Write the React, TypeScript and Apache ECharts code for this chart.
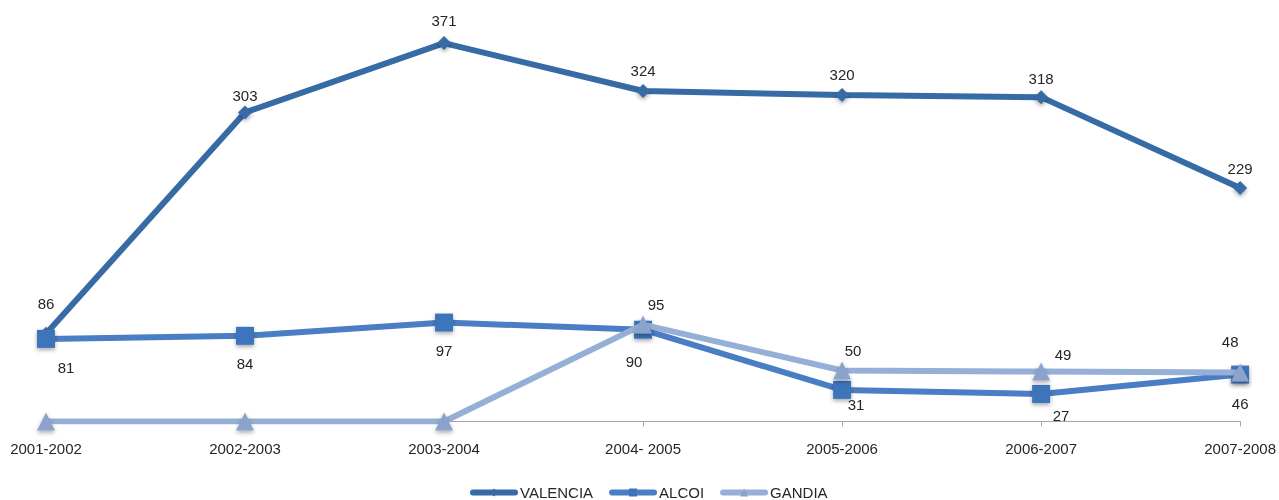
import React, { useEffect, useRef } from "react";
import * as echarts from "echarts";

const categories = ["2001-2002", "2002-2003", "2003-2004", "2004- 2005", "2005-2006", "2006-2007", "2007-2008"];
const valencia = [86, 303, 371, 324, 320, 318, 229];
const alcoi = [81, 84, 97, 90, 31, 27, 46];
const gandia = [0, 0, 0, 95, 50, 49, 48];

// label offsets (styling) relative to each point
const valenciaLabelOffsets = [[0, -30], [0, -17], [0, -23], [0, -21], [0, -21], [0, -19], [0, -19]];
const alcoiLabelOffsets = [[20, 29], [0, 28], [0, 28], [-9, 32], [14, 15], [20, 22], [0, 29]];
const gandiaLabelOffsets = [[0, 0], [0, 0], [0, 0], [13, -20], [11, -20], [22, -17], [-10, -31]];

const FONT = "'Liberation Sans', Arial, sans-serif";

function buildData(values: number[], offsets: number[][], hideZero: boolean) {
  return values.map((v, i) => ({
    value: v,
    label: { show: !(hideZero && v === 0), offset: offsets[i] },
  }));
}

export default function App() {
  const ref = useRef<HTMLDivElement>(null);
  useEffect(() => {
    if (!ref.current) return;
    const chart = echarts.init(ref.current, null, { renderer: "svg" });
    const shadow = { shadowBlur: 4, shadowColor: "rgba(0,0,0,0.35)", shadowOffsetY: 2 };
    const labelBase = {
      show: true,
      position: "inside" as const,
      color: "#262626",
      fontSize: 15,
      fontFamily: FONT,
    };
    chart.setOption({
      animation: false,
      grid: { left: 46, right: 38, top: 13.5, bottom: 78.5, containLabel: false },
      legend: {
        top: 480,
        left: 465,
        itemWidth: 42,
        itemHeight: 10,
        itemGap: 16,
        textStyle: { fontSize: 15, fontFamily: FONT, color: "#262626" },
        lineStyle: { width: 6, cap: "round" },
        data: ["VALENCIA", "ALCOI", "GANDIA"],
      },
      xAxis: {
        type: "category",
        data: categories,
        boundaryGap: false,
        axisLine: { lineStyle: { color: "#a6a6a6", width: 1 } },
        axisTick: { show: true, length: 5, lineStyle: { color: "#a6a6a6" } },
        axisLabel: { fontSize: 15, fontFamily: FONT, color: "#262626", margin: 19 },
      },
      yAxis: {
        type: "value",
        min: 0,
        max: 400,
        show: false,
        splitLine: { show: false },
      },
      series: [
        {
          name: "VALENCIA",
          type: "line",
          data: buildData(valencia, valenciaLabelOffsets, false),
          symbol: "diamond",
          symbolSize: 14,
          color: "#376BA5",
          lineStyle: { width: 6, color: "#376BA5" },
          itemStyle: { color: "#376BA5", ...shadow },
          label: labelBase,
          z: 2,
        },
        {
          name: "ALCOI",
          type: "line",
          data: buildData(alcoi, alcoiLabelOffsets, false),
          symbol: "rect",
          symbolSize: 18,
          color: "#4A7EC4",
          lineStyle: { width: 6, color: "#4A7EC4" },
          itemStyle: { color: "#3E74BC", ...shadow },
          label: labelBase,
          z: 3,
        },
        {
          name: "GANDIA",
          type: "line",
          data: buildData(gandia, gandiaLabelOffsets, true),
          symbol: "triangle",
          symbolSize: 18,
          color: "#95AFD6",
          lineStyle: { width: 6, color: "#95AFD6" },
          itemStyle: { color: "#8BA3CC", ...shadow },
          label: labelBase,
          z: 4,
        },
      ],
    });
    return () => chart.dispose();
  }, []);
  return (
    <div
      ref={ref}
      style={{ position: "fixed", left: 0, top: 0, width: 1279, height: 500, overflow: "hidden" }}
    />
  );
}
